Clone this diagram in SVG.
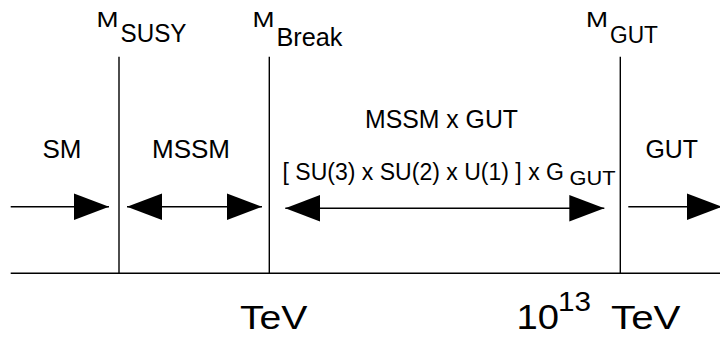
<svg xmlns="http://www.w3.org/2000/svg" width="720" height="338" viewBox="0 0 720 338">
<style>
text{font-family:"Liberation Sans",Arial,sans-serif;fill:#000}
.ln{stroke:#000;stroke-width:1.4;fill:none}
.ar{stroke:#000;stroke-width:1.4;fill:none}
.m{font-size:22px}
.l{font-size:26px}
.big{font-size:34px}
</style>
<defs>
<marker id="head" markerUnits="userSpaceOnUse" markerWidth="36" markerHeight="27" refX="35" refY="13.3" orient="auto-start-reverse" viewBox="0 0 36 27">
<path d="M0,0 L35,13.3 L0,26.6 Z" fill="#000"/>
</marker>
</defs>
<g id="axis">
<line class="ln" x1="10.7" y1="273.3" x2="720" y2="273.3"/>
</g>
<g id="m-susy">
<line class="ln" x1="119" y1="56.7" x2="119" y2="273.3"/>
<text class="m" x="96.5" y="27" textLength="22" lengthAdjust="spacingAndGlyphs">M</text>
<text x="120.5" y="41.7" style="font-size:26px" textLength="66" lengthAdjust="spacingAndGlyphs">SUSY</text>
</g>
<g id="m-break">
<line class="ln" x1="269.3" y1="56.7" x2="269.3" y2="273.3"/>
<text class="m" x="252.5" y="27" textLength="22" lengthAdjust="spacingAndGlyphs">M</text>
<text x="276.5" y="45.7" style="font-size:25px" textLength="66" lengthAdjust="spacingAndGlyphs">Break</text>
<text class="big" x="240" y="329.3" textLength="67.5" lengthAdjust="spacingAndGlyphs">TeV</text>
</g>
<g id="m-gut">
<line class="ln" x1="620.3" y1="56.7" x2="620.3" y2="273.3"/>
<text class="m" x="586" y="27" textLength="22" lengthAdjust="spacingAndGlyphs">M</text>
<text x="610" y="43.3" style="font-size:23px" textLength="48" lengthAdjust="spacingAndGlyphs">GUT</text>
<text x="516.5" y="329.3" style="font-size:35px" textLength="42.5" lengthAdjust="spacingAndGlyphs">10</text>
<text x="558" y="310.7" style="font-size:27px" textLength="33" lengthAdjust="spacingAndGlyphs">13</text>
<text class="big" x="611" y="329.3" textLength="69.5" lengthAdjust="spacingAndGlyphs">TeV</text>
</g>
<g id="sm">
<text class="l" x="42.5" y="157.7" textLength="39" lengthAdjust="spacingAndGlyphs">SM</text>
</g>
<g id="mssm">
<text class="l" x="152" y="157.7" textLength="78" lengthAdjust="spacingAndGlyphs">MSSM</text>
</g>
<g id="mssm-gut">
<text x="365" y="127.7" style="font-size:25px" textLength="153" lengthAdjust="spacingAndGlyphs">MSSM x GUT</text>
<text x="282.5" y="180" style="font-size:23px" textLength="281.5" lengthAdjust="spacingAndGlyphs">[ SU(3) x SU(2) x U(1) ] x G</text>
<text x="569.5" y="185" style="font-size:21px" textLength="46" lengthAdjust="spacingAndGlyphs">GUT</text>
</g>
<g id="gut">
<text x="645.5" y="157.7" style="font-size:25px" textLength="52.5" lengthAdjust="spacingAndGlyphs">GUT</text>
</g>
<g id="connectors">
<path class="ar" d="M10.7,206.7 L109,206.7" marker-end="url(#head)"/>
<path class="ar" d="M127,206.7 L262,206.7" marker-start="url(#head)" marker-end="url(#head)"/>
<path class="ar" d="M285.3,208.3 L604.3,208.3" marker-start="url(#head)" marker-end="url(#head)"/>
<path class="ar" d="M628.3,206.7 L722,206.7" marker-end="url(#head)"/>
</g>
</svg>
